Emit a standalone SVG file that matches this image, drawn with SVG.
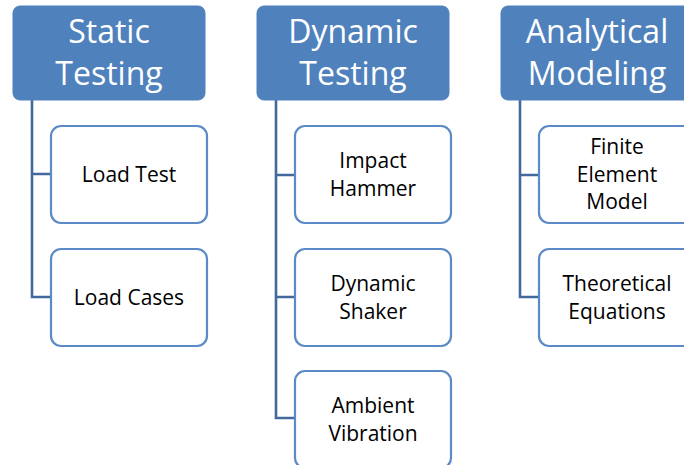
<svg xmlns="http://www.w3.org/2000/svg" width="684" height="465" viewBox="0 0 684 465">
<style>
.hdr{fill:#4F81BD;stroke:#4F81BD;stroke-width:1}
.child{fill:#FFFFFF;stroke:#5B8AC6;stroke-width:2.2}
.ht{font-family:"Open Sans",sans-serif;font-size:32px;fill:#FFFFFF;text-anchor:middle}
.ct{font-family:"Open Sans",sans-serif;font-size:21px;fill:#000000;text-anchor:middle}
.conn{fill:none;stroke:#41699E;stroke-width:2.6}
</style>
<rect width="684" height="465" fill="#FFFFFF"/>
<g id="connectors">
<path class="conn" d="M32,100 V297 H50 M32,174 H50"/>
<path class="conn" d="M276,100 V418 H294 M276,175 H294 M276,297 H294"/>
<path class="conn" d="M520,100 V297 H538 M520,175 H538"/>
</g>
<g id="static">
<rect class="hdr" x="13" y="6" width="192" height="94" rx="7"/>
<text class="ht" x="109" y="43">Static</text>
<text class="ht" x="109" y="85">Testing</text>
</g>
<g id="load-test">
<rect class="child" x="51" y="126" width="156" height="97" rx="10"/>
<text class="ct" x="129" y="182">Load Test</text>
</g>
<g id="load-cases">
<rect class="child" x="51" y="249" width="156" height="97" rx="10"/>
<text class="ct" x="129" y="305">Load Cases</text>
</g>
<g id="dynamic">
<rect class="hdr" x="257" y="6" width="192" height="94" rx="7"/>
<text class="ht" x="353" y="43">Dynamic</text>
<text class="ht" x="353" y="85">Testing</text>
</g>
<g id="impact-hammer">
<rect class="child" x="295" y="126" width="156" height="97" rx="10"/>
<text class="ct" x="373" y="168">Impact</text>
<text class="ct" x="373" y="196">Hammer</text>
</g>
<g id="dynamic-shaker">
<rect class="child" x="295" y="249" width="156" height="97" rx="10"/>
<text class="ct" x="373" y="291">Dynamic</text>
<text class="ct" x="373" y="319">Shaker</text>
</g>
<g id="ambient-vibration">
<rect class="child" x="295" y="371" width="156" height="97" rx="10"/>
<text class="ct" x="373" y="413">Ambient</text>
<text class="ct" x="373" y="441">Vibration</text>
</g>
<g id="analytical">
<rect class="hdr" x="501" y="6" width="192" height="94" rx="7"/>
<text class="ht" x="597" y="43">Analytical</text>
<text class="ht" x="597" y="85">Modeling</text>
</g>
<g id="finite-element">
<rect class="child" x="539" y="126" width="156" height="97" rx="10"/>
<text class="ct" x="617" y="154">Finite</text>
<text class="ct" x="617" y="182">Element</text>
<text class="ct" x="617" y="209">Model</text>
</g>
<g id="theoretical">
<rect class="child" x="539" y="249" width="156" height="97" rx="10"/>
<text class="ct" x="617" y="291">Theoretical</text>
<text class="ct" x="617" y="319">Equations</text>
</g>
</svg>
